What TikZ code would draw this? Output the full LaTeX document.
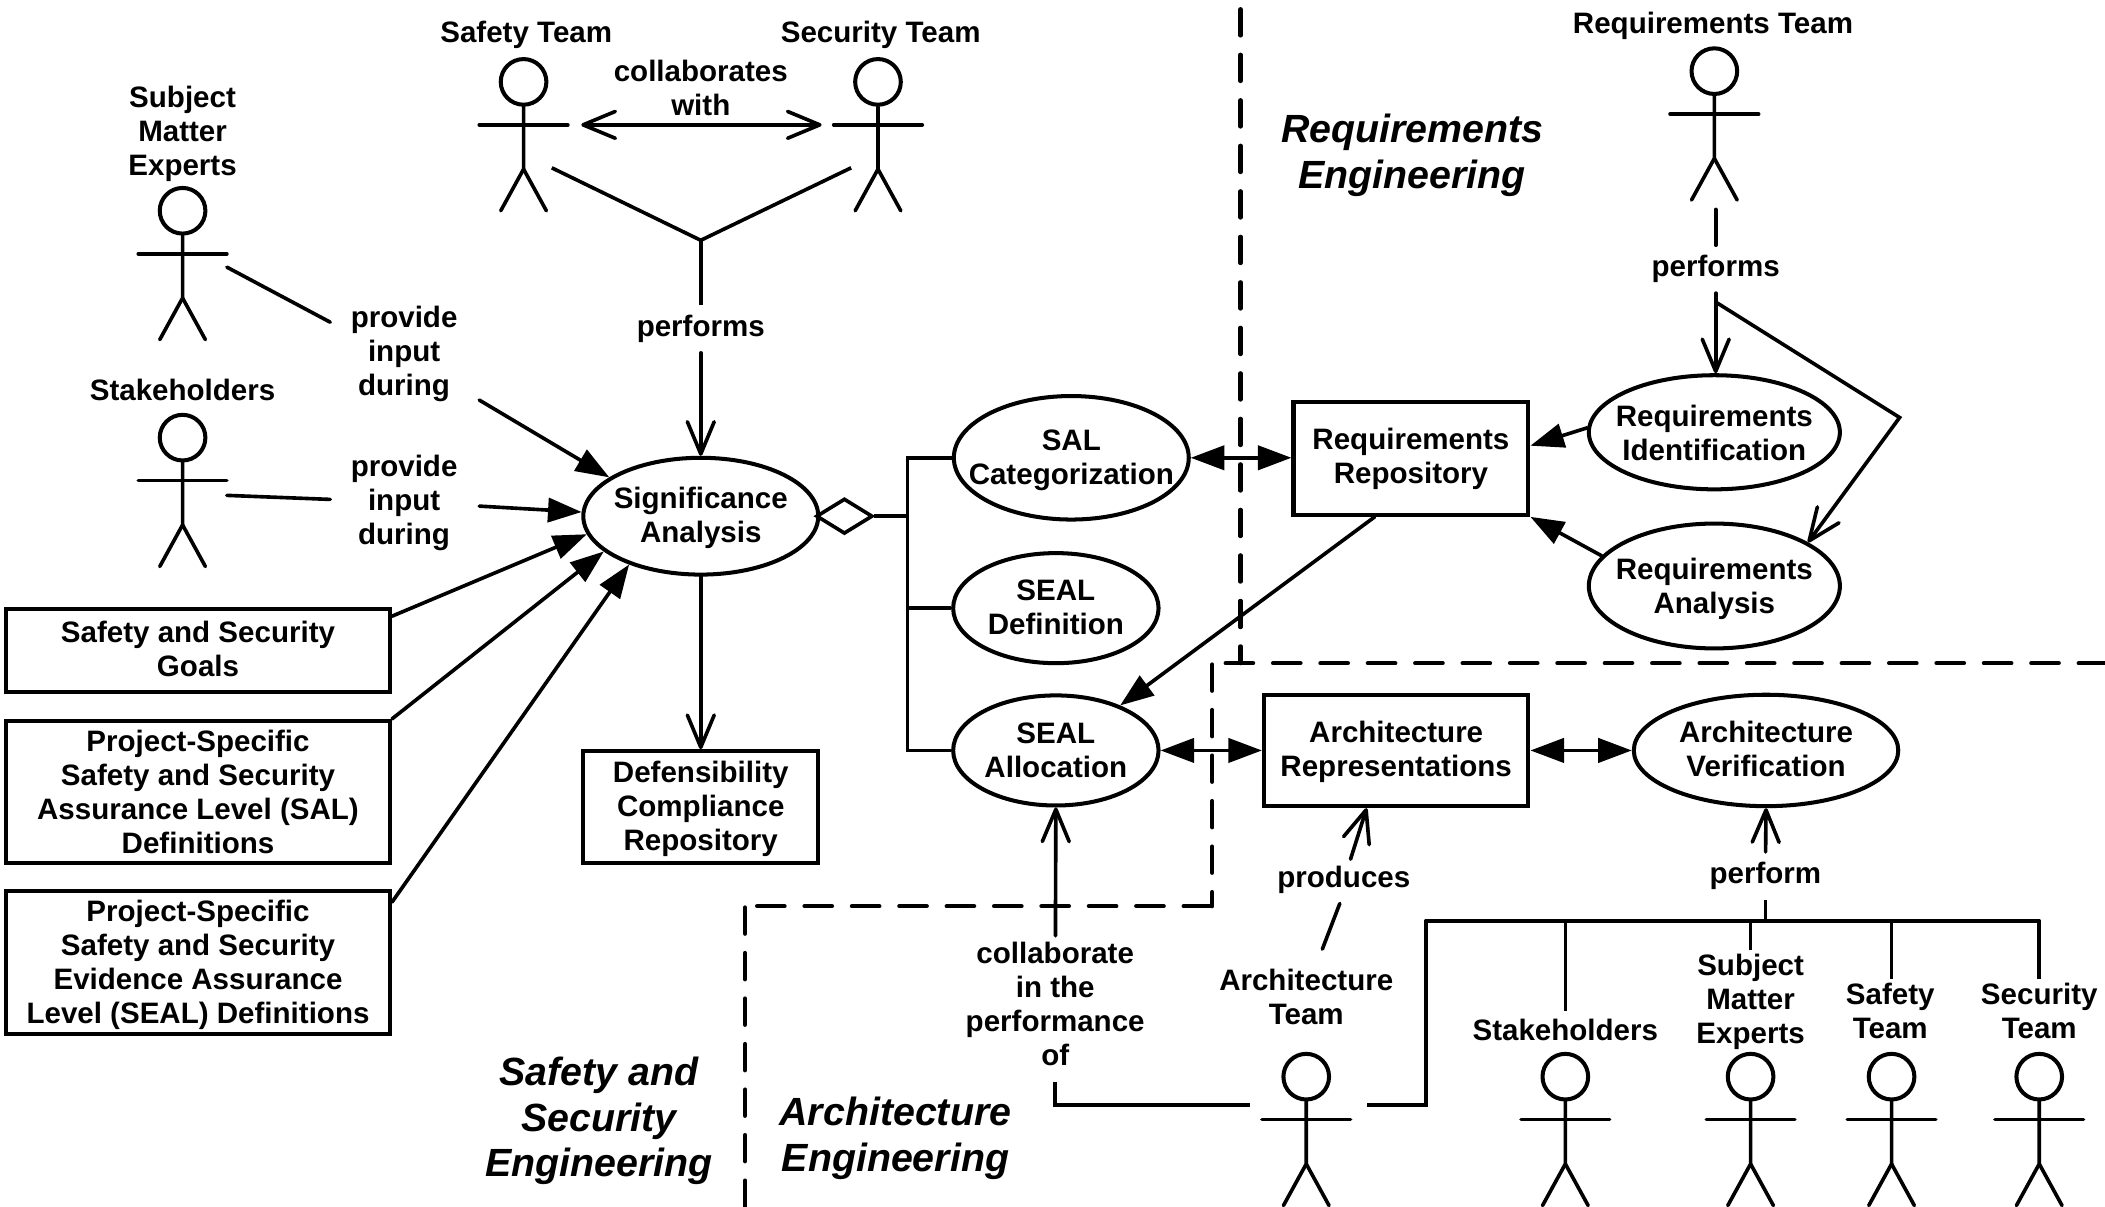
\documentclass[tikz,border=0pt]{standalone}
\usepackage{fontspec}
\setmainfont{Liberation Sans}
\usetikzlibrary{arrows.meta,shapes.geometric}
\tikzset{
  every node/.style={font=\fontsize{22}{25.3}\selectfont\bfseries,align=center,execute at begin node=\rule{0pt}{18.7pt},execute at end node=\strut},
  conn/.style={line width=2.7pt,line cap=round,line join=miter},
  openarr/.style={conn,-{Straight Barb[length=24pt,width=20pt,line width=2.7pt,round]}},
  openboth/.style={conn,{Straight Barb[length=24pt,width=20pt,line width=2.7pt,round]}-{Straight Barb[length=24pt,width=20pt,line width=2.7pt,round]}},
  fillarr/.style={conn,-{Triangle[length=25pt,width=18pt]}},
  fillboth/.style={conn,{Triangle[length=25pt,width=18pt]}-{Triangle[length=25pt,width=18pt]}},
  oval/.style={ellipse,draw,line width=3pt,inner sep=-30pt},
  box/.style={rectangle,draw,line width=3pt,inner sep=0pt},
  lab/.style={inner sep=4.5pt},
  actorhead/.style={circle,draw,line width=3pt,minimum size=34pt,inner sep=0pt},
  stick/.style={line width=2.7pt,line cap=round},
  zonev/.style={line width=3.2pt,line cap=round,dash pattern=on 19.5pt off 14.4pt},
  zoneh/.style={line width=3.2pt,line cap=round,dash pattern=on 20.4pt off 14.9pt},
  areatitle/.style={font=\fontsize{29.3}{34}\selectfont\bfseries\itshape},
  linkline/.style={conn,line cap=butt},
}
\newcommand\actor[3]{%
  \node[actorhead] (#1) at (#2,#3) {};
  \draw[stick] (#1.south) -- (#2,#3+65) -- (#2-17,#3+96);
  \draw[stick] (#2,#3+65) -- (#2+17,#3+96);
  \draw[stick] (#2-33,#3+32) -- (#2+33,#3+32);
}
\newcommand\gp[1]{\mbox{}\\[#1pt]}
\begin{document}
\begin{tikzpicture}[x=1pt,y=-1pt]
\useasboundingbox (0,0) rectangle (1568,899.07);
% zones
\draw[zonev,dash phase=7pt] (924,494) -- (924,6);
\draw[zoneh] (913,494) -- (1568,494);
\draw[zonev] (903,495) -- (903,675);
\draw[zoneh] (564,675) -- (903,675);
\draw[zonev] (555,676) -- (555,899);
% actors
\actor{asafety}{390}{61}
\actor{asecurity}{654}{61}
\actor{asme}{136}{157}
\actor{astake}{136}{326}
\actor{areq}{1277}{53}
\actor{aarch}{973}{802}
\actor{astaketwo}{1166}{802}
\actor{asmetwo}{1304}{802}
\actor{asafetytwo}{1409}{802}
\actor{asecuritytwo}{1519}{802}
% actor names
\node (tsafety) at (392,26) {Safety Team};
\node (tsecurity) at (656,26) {Security Team};
\node (tsme) at (136,101) {Subject\\Matter\\Experts};
\node (tstake) at (136,293) {Stakeholders};
\node (treq) at (1276,19.5) {Requirements Team};
\node (tarch) at (973,746) {Architecture\\Team};
\node (tstaketwo) at (1166,769.5) {Stakeholders};
\node (tsmetwo) at (1304,748) {Subject\\Matter\\Experts};
\node (tsafetytwo) at (1408,757) {Safety\\Team};
\node (tsecuritytwo) at (1519,757) {Security\\Team};
% ovals
\node[oval,minimum width=175pt,minimum height=87pt] (sig) at (522,384.5) {\gp{-3.3}Significance\\Analysis};
\node[oval,minimum width=175pt,minimum height=92pt] (salcat) at (798,341) {\gp{-3.3}SAL\\Categorization};
\node[oval,minimum width=153pt,minimum height=82pt] (sealdef) at (786.5,453) {\gp{-3.3}SEAL\\Definition};
\node[oval,minimum width=153pt,minimum height=82pt] (sealall) at (786.5,559) {\gp{-3.3}SEAL\\Allocation};
\node[oval,minimum width=187pt,minimum height=85pt] (reqid) at (1277,322) {\gp{-1.3}Requirements\\Identification};
\node[oval,minimum width=187pt,minimum height=93pt] (reqan) at (1277,436.5) {\gp{-2.3}Requirements\\Analysis};
\node[oval,minimum width=197pt,minimum height=83pt] (archver) at (1315.5,559) {\gp{-4.3}Architecture\\Verification};
% boxes
\node[box,minimum width=175pt,minimum height=84pt] (reqrepo) at (1051,341.5) {\gp{-5.3}Requirements\\Repository};
\node[box,minimum width=197pt,minimum height=83pt] (archrep) at (1040,559) {\gp{-4.3}Architecture\\Representations};
\node[box,minimum width=175pt,minimum height=83pt] (defens) at (522,601) {\gp{-3.3}Defensibility\\Compliance\\Repository};
\node[box,minimum width=286pt,minimum height=62pt] (goals) at (147.5,484.5) {\gp{-4.3}Safety and Security\\Goals};
\node[box,minimum width=286pt,minimum height=105pt] (salbox) at (147.5,590) {\gp{-2.8}Project-Specific\\Safety and Security\\Assurance Level (SAL)\\Definitions};
\node[box,minimum width=286pt,minimum height=105pt] (sealbox) at (147.5,717) {\gp{-2.3}Project-Specific\\Safety and Security\\Evidence Assurance\\Level (SEAL) Definitions};
% aggregation
\node[diamond,draw,line width=2.7pt,inner sep=0pt,minimum width=29pt,minimum height=18pt,shape aspect=1.6] (agg) at (629,384.5) {};
\coordinate (aggbus) at (676,384.5);
\draw[linkline] (agg.east) -- (aggbus);
\draw[conn,line cap=butt] (salcat.west |- 0,341) -- (676,341) -- (676,559) -- (sealall.west);
\draw[linkline] (676,453) -- (sealdef.west);
% labels
\node[lab] (lcollab) at (522,69.5) {collaborates\\with};
\node[lab] (lperf) at (522,245) {performs};
\node[lab] (lin1) at (301,265) {provide\\input\\during};
\node[lab] (lin2) at (301,376) {provide\\input\\during};
\node[lab] (lperfreq) at (1278,200.5) {performs};
\node[lab] (lprod) at (1001,655.5) {produces};
\node[lab] (lperform) at (1315,652.5) {perform};
\node[lab] (lcoll) at (786,751.5) {collaborate\\in the\\performance\\of};
% area titles
\node[areatitle] (treqeng) at (1052,118) {Requirements\\Engineering};
\node[areatitle] (tsafeng) at (446,837) {Safety and\\Security\\Engineering};
\node[areatitle] (tarcheng) at (667,850) {Architecture\\Engineering};
% free ends
\coordinate (cola) at (433,93);
\coordinate (colb) at (612,93);
\coordinate (ya) at (411,125);
\coordinate (yb) at (634,125);
\coordinate (yj) at (522,179);
\coordinate (s1a) at (169,199);
\coordinate (s1b) at (246,240);
\coordinate (s1c) at (357,298);
\coordinate (s2a) at (169,369);
\coordinate (s2b) at (246,372);
\coordinate (s2c) at (357,377);
\coordinate (rtop) at (1278,156);
\coordinate (rp) at (1278,225);
\coordinate (rc) at (1415,311);
\coordinate (pr1) at (1006,640);
\coordinate (pr2) at (998,673);
\coordinate (pr3) at (985,707);
\coordinate (bus) at (1062,686);
\coordinate (busend) at (1519,686);
\coordinate (cp1) at (786,823);
\coordinate (cp2) at (931,823);
\coordinate (bp1) at (1018,823);
\coordinate (bp2) at (1062,823);
% connectors
\draw[openboth] (cola) -- (colb);
\draw[linkline] (ya) -- (yj) -- (yb);
\draw[linkline] (yj) -- (lperf);
\draw[openarr] (lperf) -- (sig.north);
\draw[conn] (s1a) -- (s1b);
\draw[fillarr] (s1c) -- (sig.157);
\draw[conn] (s2a) -- (s2b);
\draw[fillarr] (s2c) -- (sig.178);
\draw[fillarr] (goals.north east |- 0,459) -- (sig.189);
\draw[fillarr] (salbox.north east) -- (sig.200);
\draw[fillarr] (sealbox.north east |- 0,672) -- (sig.214);
\draw[openarr] (sig.south) -- (defens.north);
\draw[fillboth] (salcat.east) -- (reqrepo.west |- salcat.east);
\draw[conn] (rtop) -- (lperfreq);
\draw[openarr] (lperfreq) -- (reqid.north -| lperfreq);
\draw[conn,-{Straight Barb[length=24pt,width=20pt,line width=2.7pt,round]}] (rp) -- (rc) -- (reqan.25);
\draw[fillarr] (reqid.178) -- (reqrepo.east |- 0,332);
\draw[fillarr] (reqan.165) -- (reqrepo.south east);
\draw[fillarr] (reqrepo.south west -| 1024,0) -- (sealall.35.5);
\draw[fillboth] (sealall.east) -- (archrep.west);
\draw[fillboth] (archrep.east) -- (archver.west);
\draw[openarr] (pr1) -- (archrep.south -| 1018,0);
\draw[conn] (pr2) -- (pr3);
\draw[openarr] (lperform) -- (archver.south);
\draw[linkline] (lperform) -- (lperform |- bus);
\draw[conn] (bus) -- (busend);
\draw[linkline] (bus) -- (bp2) -- (bp1);
\draw[linkline] (1166,686) -- (tstaketwo);
\draw[linkline] (1304,686) -- (tsmetwo);
\draw[linkline] (1409,686) -- (tsafetytwo.north -| 1409,0);
\draw[linkline] (1519,686) -- (tsecuritytwo);
\draw[openarr] (lcoll) -- (sealall.south);
\draw[linkline] (lcoll) -- (lcoll |- cp1) -- (cp2);
\end{tikzpicture}
\end{document}
